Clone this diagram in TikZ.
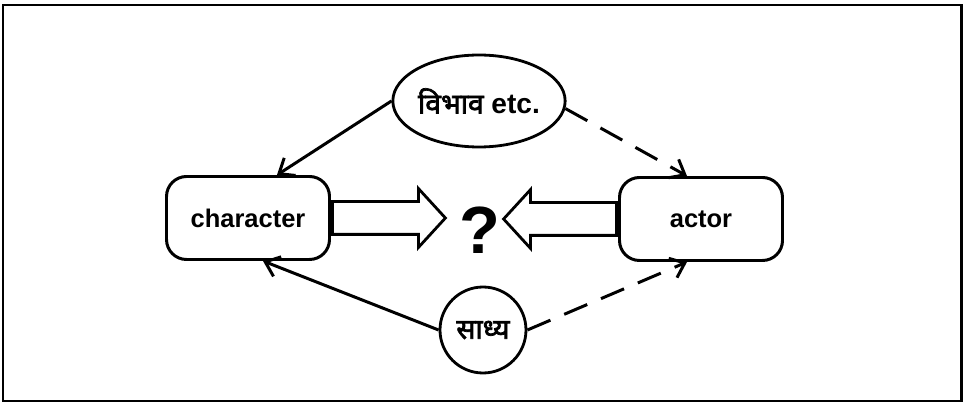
\documentclass[tikz,border=0pt]{standalone}
\usepackage{fontspec}
\setmainfont{Liberation Sans}
\newfontfamily\devafont[Script=Devanagari,AutoFakeBold=2.5]{Noto Sans}
\usetikzlibrary{arrows.meta,shapes.geometric,shapes.arrows}
\definecolor{inkblack}{RGB}{0,0,0}
\tikzset{
  rolebox/.style={draw=inkblack,line width=1.7pt,rounded corners=0.4cm,
                  minimum width=3.26cm,minimum height=1.66cm,
                  font=\fontsize{14.5}{17}\selectfont\bfseries},
  src/.style={draw=inkblack,line width=1.6pt,inner sep=0pt,
              font=\fontsize{16}{19}\selectfont\bfseries},
  fat/.style={single arrow,draw=inkblack,line width=1.6pt,
              inner xsep=0pt,inner ysep=0.3cm,
              minimum height=2.26cm,
              single arrow head extend=0.26cm,single arrow tip angle=95},
  ge/.style={-{Straight Barb[length=2.6mm,width=4.2mm]},line width=1.7pt},
  gd/.style={ge,dash pattern=on 0.5cm off 0.3cm},
}
\begin{document}
\begin{tikzpicture}
    \useasboundingbox (0,0) rectangle (19.36,8.08);
    \draw[line width=1.7pt] (0.06,0.06) rectangle (19.22,7.98);
    % the two sides
    \node[rolebox] (char) at (4.96,3.72) {character};
    \node[rolebox] (actor) at (14.02,3.70) {actor};
    % sources
    \node[src,ellipse,minimum width=3.36cm,minimum height=1.84cm] (vibh)
      at (9.58,6.06) {{\devafont\bfseries विभाव} etc.};
    \node[src,circle,minimum size=1.72cm,font=\devafont\fontsize{16}{19}\selectfont\bfseries]
      (sadh) at (9.66,1.48) {साध्य};
    % the question
    \node[font=\fontsize{38}{40}\selectfont\bfseries] (q) at (9.6,3.48) {?};
    \node[fat,anchor=tail] (toq) at (char.east) {};
    \node[fat,shape border rotate=180,anchor=tail] (fromq) at (actor.west) {};
    % links
    \draw[ge] (vibh.west) -- ([xshift=0.58cm]char.north);
    \draw[gd] (vibh.-5) -- ([xshift=-0.28cm]actor.north);
    \draw[ge] (sadh.west) -- ([xshift=0.3cm]char.south);
    \draw[gd] (sadh.east) -- ([xshift=-0.28cm]actor.south);
  \end{tikzpicture}
\end{document}
